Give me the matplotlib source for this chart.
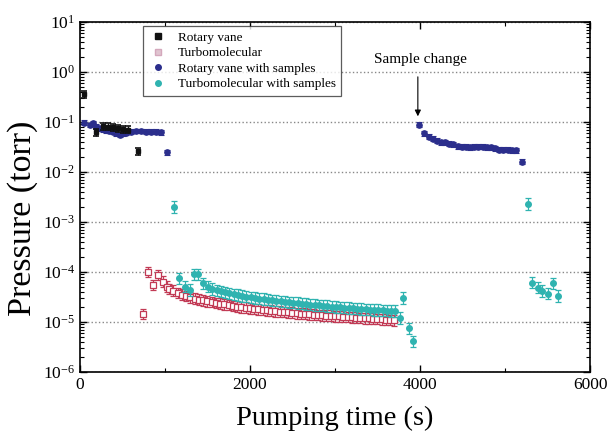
import matplotlib
matplotlib.use("Agg")
import matplotlib.pyplot as plt
from matplotlib.lines import Line2D
import numpy as np

plt.rcParams['font.family'] = ['Liberation Serif', 'DejaVu Serif']
plt.rcParams['mathtext.fontset'] = 'stix'

# ---------------- data ----------------
rv_t = [50, 190, 270, 330, 390, 450, 510, 570, 680]
rv_p = [0.36, 0.062, 0.082, 0.080, 0.078, 0.075, 0.072, 0.070, 0.026]

turbo_t = [740, 800, 855, 920, 975, 1020,
           1050, 1100, 1150, 1200, 1250, 1300, 1350, 1400, 1450, 1500,
           1550, 1600, 1650, 1700, 1750, 1800, 1850, 1900, 1950, 2000,
           2050, 2100, 2150, 2200, 2250, 2300, 2350, 2400, 2450, 2500,
           2550, 2600, 2650, 2700, 2750, 2800, 2850, 2900, 2950, 3000,
           3050, 3100, 3150, 3200, 3250, 3300, 3350, 3400, 3450, 3500,
           3550, 3600, 3650, 3700]
turbo_p = [1.45e-5, 1.0e-4, 5.5e-5, 8.7e-5, 6.4e-5, 5.1e-5,
           4.6e-5, 4.2e-5, 3.8e-5, 3.5e-5, 3.3e-5, 3.1e-5, 2.95e-5, 2.8e-5, 2.7e-5, 2.6e-5,
           2.5e-5, 2.4e-5, 2.32e-5, 2.25e-5, 2.18e-5, 2.1e-5, 2.04e-5, 1.98e-5, 1.92e-5, 1.87e-5,
           1.83e-5, 1.79e-5, 1.75e-5, 1.71e-5, 1.68e-5, 1.65e-5, 1.62e-5, 1.59e-5, 1.56e-5, 1.53e-5,
           1.5e-5, 1.48e-5, 1.46e-5, 1.43e-5, 1.41e-5, 1.39e-5, 1.37e-5, 1.35e-5, 1.33e-5, 1.31e-5,
           1.29e-5, 1.27e-5, 1.26e-5, 1.24e-5, 1.22e-5, 1.21e-5, 1.19e-5, 1.18e-5, 1.16e-5, 1.15e-5,
           1.13e-5, 1.12e-5, 1.1e-5, 1.09e-5]

rvs_t = [55, 114, 153, 192, 231, 271, 310, 349, 388, 427, 467, 506, 545, 604, 663,
         722, 780, 839, 898, 957, 1030,
         3985, 4051, 4106, 4149, 4196, 4247, 4298, 4345, 4392, 4443, 4490, 4541,
         4588, 4639, 4686, 4738, 4785, 4835, 4882, 4933, 4980, 5032, 5079, 5129, 5205]
rvs_p = [0.097, 0.087, 0.094, 0.081, 0.075, 0.071, 0.069, 0.067, 0.064, 0.059, 0.055,
         0.059, 0.061, 0.064, 0.066, 0.066, 0.064, 0.064, 0.064, 0.063, 0.025,
         0.088, 0.059, 0.051, 0.046, 0.042, 0.039, 0.039, 0.037, 0.036, 0.033, 0.032, 0.032,
         0.031, 0.032, 0.032, 0.032, 0.031, 0.031, 0.030, 0.028, 0.028, 0.028, 0.027, 0.027, 0.016]

ts_t = [1110, 1168, 1235, 1294, 1340, 1395, 1451, 1510,
        1560, 1610, 1660, 1710, 1760, 1810, 1860, 1910, 1960, 2010,
        2060, 2110, 2160, 2210, 2260, 2310, 2360, 2410, 2460, 2510,
        2560, 2610, 2660, 2710, 2760, 2810, 2860, 2910, 2960, 3010,
        3060, 3110, 3160, 3210, 3260, 3310, 3360, 3410, 3460, 3510,
        3560, 3610, 3660, 3710,
        3765, 3804, 3874, 3922,
        5265, 5321, 5385, 5439, 5502, 5561, 5627]
ts_p = [2.0e-3, 7.5e-5, 5.1e-5, 4.4e-5, 9.0e-5, 9.0e-5, 5.9e-5, 5.1e-5,
        4.6e-5, 4.3e-5, 4.1e-5, 3.9e-5, 3.75e-5, 3.6e-5, 3.45e-5, 3.32e-5, 3.22e-5, 3.12e-5,
        3.03e-5, 2.95e-5, 2.87e-5, 2.8e-5, 2.73e-5, 2.66e-5, 2.6e-5, 2.54e-5, 2.48e-5, 2.43e-5,
        2.38e-5, 2.33e-5, 2.28e-5, 2.24e-5, 2.2e-5, 2.16e-5, 2.12e-5, 2.08e-5, 2.04e-5, 2.0e-5,
        1.97e-5, 1.94e-5, 1.91e-5, 1.88e-5, 1.85e-5, 1.82e-5, 1.79e-5, 1.77e-5, 1.75e-5, 1.73e-5,
        1.71e-5, 1.69e-5, 1.67e-5, 1.65e-5,
        1.2e-5, 3.0e-5, 7.5e-6, 4.1e-6,
        2.3e-3, 6.1e-5, 4.9e-5, 4.2e-5, 3.7e-5, 5.9e-5, 3.3e-5]

labels = ["Rotary vane", "Turbomolecular", "Rotary vane with samples",
          "Turbomolecular with samples"]

# ---------------- plot ----------------
fig = plt.figure(figsize=(6.14, 4.4), dpi=100)
ax = fig.add_axes([0.130, 0.1545, 0.831, 0.7955])

c_black = '#111111'
c_red = '#c23a55'
c_blue = '#2b2e8c'
c_cyan = '#2fb3b0'

def rel_err(p, f):
    p = np.asarray(p)
    return [p - p / (1 + f), p * f]

ax.errorbar(turbo_t, turbo_p, yerr=rel_err(turbo_p, 0.28), fmt='s', ms=4.5,
            mfc='white', mec=c_red, mew=0.9, ecolor=c_red, elinewidth=0.9,
            capsize=2.5, capthick=0.9, zorder=3)
ax.errorbar(ts_t, ts_p, yerr=rel_err(ts_p, 0.3), fmt='o', ms=4.0,
            mfc=c_cyan, mec=c_cyan, ecolor=c_cyan, elinewidth=0.9,
            capsize=2.5, capthick=0.9, zorder=4)
ax.errorbar(rvs_t, rvs_p, yerr=rel_err(rvs_p, 0.12), fmt='o', ms=3.8,
            mfc=c_blue, mec=c_blue, ecolor=c_blue, elinewidth=0.8,
            capsize=2, capthick=0.8, zorder=4)
ax.errorbar(rv_t, rv_p, yerr=rel_err(rv_p, 0.18), fmt='s', ms=3.5,
            mfc=c_black, mec=c_black, ecolor=c_black, elinewidth=1.0,
            capsize=2.5, capthick=1.2, zorder=5)

ax.set_yscale('log')
ax.set_xlim(0, 6000)
ax.set_ylim(1e-6, 10)
ax.set_xticks([0, 2000, 4000, 6000])
ax.set_xticks([1000, 3000, 5000], minor=True)
ax.set_yticks([10.0**k for k in range(-6, 2)])
ax.yaxis.set_minor_locator(matplotlib.ticker.LogLocator(base=10, subs=np.arange(2, 10), numticks=20))
ax.yaxis.set_minor_formatter(matplotlib.ticker.NullFormatter())
ax.tick_params(which='both', direction='in', top=True, right=True, labelsize=12.5)
ax.tick_params(which='major', length=5, width=1.0)
ax.tick_params(which='minor', length=3, width=0.8)
for s in ax.spines.values():
    s.set_linewidth(1.2)

ax.grid(True, which='major', axis='y', linestyle=':', color='#888888', linewidth=1.0)
ax.set_axisbelow(True)

ax.set_xlabel("Pumping time (s)", fontsize=20.5, labelpad=9)
ax.set_ylabel("Pressure (torr)", fontsize=24.5)
ax.yaxis.set_label_coords(-0.082, 0.44)

ax.text(4000, 1.3, "Sample change", fontsize=11, ha='center', va='bottom')
ax.annotate("", xy=(3975, 0.13), xytext=(3975, 0.8),
            arrowprops=dict(arrowstyle='-|>', color='black', lw=0.8,
                            mutation_scale=9, shrinkA=0, shrinkB=0))

handles = [
    Line2D([], [], ls='none', marker='s', ms=4, mfc=c_black, mec=c_black),
    Line2D([], [], ls='none', marker='s', ms=4, mfc='#e0c4d0', mec='#d4a8bc'),
    Line2D([], [], ls='none', marker='o', ms=4, mfc=c_blue, mec=c_blue),
    Line2D([], [], ls='none', marker='o', ms=4, mfc=c_cyan, mec=c_cyan),
]
leg = ax.legend(handles, labels, loc='upper left', bbox_to_anchor=(0.123, 0.988),
                borderaxespad=0, fontsize=9.5, frameon=True, fancybox=False,
                edgecolor='#333333', handletextpad=0.8, labelspacing=0.25,
                borderpad=0.4, handlelength=1.5)
leg.get_frame().set_linewidth(0.9)

fig.savefig("out.png", dpi=100)
